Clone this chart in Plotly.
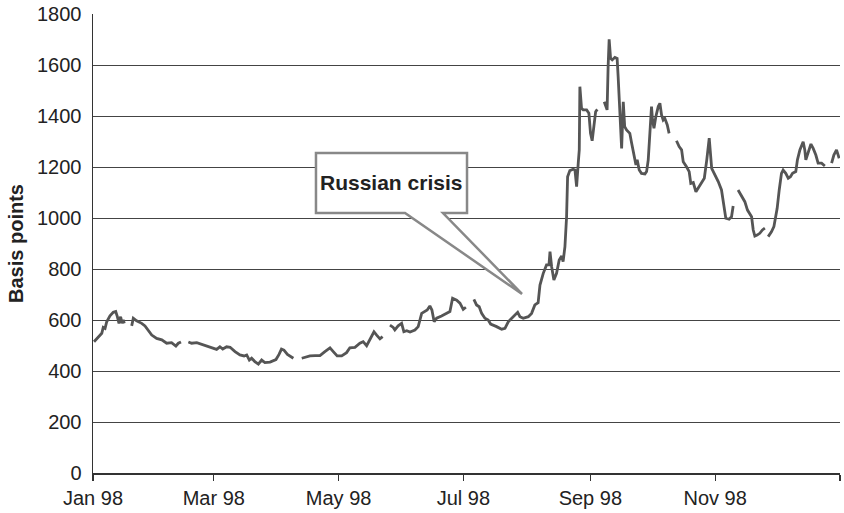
import plotly.graph_objects as go
import pandas as pd

# Days since 1 Jan 1998 and spread in basis points (None = missing data -> gap)
days = [
    0.5, 2.6, 4.3, 5.0, 5.9, 6.7, 8.3, 9.9, 11.1, 11.9, 12.7, 13.5, 14.2, 14.8, 15.3,
    17.0,
    18.9, 19.7, 21.3, 23.8, 25.4, 27.0, 28.7, 31.1, 33.6, 36.0, 38.4, 40.5, 41.7, 43.0,
    45.0,
    46.6, 48.2, 50.7, 53.9, 57.2, 60.4, 62.0, 63.4, 65.3, 67.0, 69.4, 71.8, 73.8, 75.1,
    76.4, 77.5, 79.1, 80.8, 82.4, 84.0, 86.5, 89.4, 90.9, 92.1, 93.3, 95.0, 97.9,
    100.0,
    102.0, 103.6, 106.0, 108.5, 110.9, 113.3, 115.8, 117.4, 119.3, 121.5, 123.9, 125.5,
    128.0, 130.4, 132.0, 133.7, 135.7, 137.3, 138.6, 140.2, 141.5,
    143.0,
    145.1, 146.7, 147.5, 149.1, 150.8, 151.9, 153.3, 154.9, 157.3, 158.9, 160.6, 162.2,
    163.3, 164.6, 165.6, 166.7, 167.9, 170.3, 172.8, 174.4, 175.7, 177.7, 179.3, 180.9, 182.2,
    184.0,
    186.1, 187.4, 188.7, 189.9, 191.5, 193.1, 194.3, 195.6, 197.2, 199.7, 201.3, 202.9,
    205.3, 207.5, 208.6, 210.2, 212.7, 214.3, 215.9, 217.5, 218.4, 220.0, 221.6, 222.8,
    223.3, 224.1, 225.2, 226.5, 227.8, 229.0, 229.7, 230.6, 231.4, 231.9, 233.0, 234.6,
    235.5, 236.3, 237.1, 237.6, 237.9, 238.7, 239.5, 241.2, 242.3, 243.1, 243.9, 244.7,
    245.6, 246.4,
    248.0,
    249.8, 250.6, 251.2, 251.7, 252.2, 252.9, 253.7, 255.0, 256.1, 256.6, 257.5, 258.3,
    259.1, 259.8, 260.7, 262.3, 263.2, 264.3, 265.3, 265.9, 266.9, 268.0, 269.7, 270.5,
    271.3, 272.1, 272.9, 273.4, 274.1, 275.0, 276.2, 277.0, 277.8, 278.6, 279.4, 280.6, 281.5,
    283.0,
    285.1, 286.4, 287.6, 288.4, 290.0, 291.3, 292.1, 293.3, 294.6, 295.7, 297.4, 298.7,
    299.9, 301.1, 302.3, 303.9, 305.5, 307.1, 308.3, 309.2, 310.8, 312.0, 312.8,
    314.0,
    315.2, 316.9, 318.5, 319.8, 320.9, 321.8, 322.6, 323.4, 324.5, 325.8, 327.1, 328.3,
    329.0,
    329.9, 331.5, 332.7, 333.7, 334.3, 335.3, 336.4, 337.2, 338.5, 339.7, 340.8, 341.8,
    343.4, 344.2, 345.4, 347.0, 347.8, 348.3, 349.4, 350.8, 351.9, 353.2, 354.3, 356.0, 357.6,
    359.0,
    360.9, 362.0, 363.3, 364.6,
]

basis_points = [
    515, 535, 548, 571, 567, 593, 616, 630, 633, 613, 587, 613, 587, 600, 587,
    None,
    577, 607, 597, 587, 577, 561, 541, 528, 522, 509, 511, 498, 509, 514,
    None,
    514, 509, 511, 502, 491, 485, 495, 486, 495, 493, 476, 463, 459, 463,
    443, 450, 437, 427, 443, 433, 435, 445, 465, 486, 482, 465, 450,
    None,
    450, 454, 459, 460, 460, 476, 491, 476, 459, 459, 472, 491,
    493, 509, 515, 499, 528, 554, 541, 526, 535,
    None,
    580, 571, 561, 577, 587, 554, 558, 553, 561, 574, 626, 633,
    639, 655, 639, 593, 607, 616, 626, 633, 685, 678, 666, 642, 650,
    None,
    681, 659, 652, 626, 607, 600, 584, 580, 574, 564, 567, 593,
    613, 630, 613, 607, 613, 626, 659, 668, 737, 783, 816, 816,
    868, 809, 757, 783, 835, 851, 829, 888, 1005, 1162, 1186, 1191,
    1188, 1123, 1215, 1267, 1515, 1430, 1424, 1424, 1411, 1332, 1303, 1358,
    1417, 1426,
    None,
    1456, 1437, 1424, 1594, 1701, 1626, 1620, 1630, 1626, 1554, 1411, 1273,
    1456, 1358, 1345, 1332, 1293, 1241, 1208, 1228, 1188, 1175, 1173, 1182,
    1228, 1332, 1437, 1384, 1352, 1397, 1437, 1450, 1404, 1384, 1391, 1365, 1332,
    None,
    1303, 1280, 1267, 1221, 1201, 1182, 1136, 1139, 1103, 1116, 1136, 1156,
    1228, 1313, 1195, 1169, 1143, 1110, 1045, 999, 995, 1005, 1047,
    None,
    1110, 1086, 1064, 1031, 1018, 1005, 953, 929, 933, 940, 953, 960,
    None,
    927, 946, 966, 1005, 1038, 1110, 1175, 1188, 1175, 1156, 1162, 1175,
    1182, 1228, 1267, 1299, 1267, 1228, 1260, 1290, 1273, 1247, 1215, 1215, 1204,
    None,
    1215, 1247, 1267, 1234,
]

tick_dates = ["1998-01-01", "1998-03-01", "1998-05-01", "1998-07-01",
              "1998-09-01", "1998-11-01", "1999-01-01"]
tick_labels = ["Jan 98", "Mar 98", "May 98", "Jul 98", "Sep 98", "Nov 98", ""]

y_ticks = list(range(0, 1801, 200))

dates = pd.Timestamp("1998-01-01") + pd.to_timedelta(days, unit="D")

fig = go.Figure()
fig.add_trace(go.Scatter(
    x=dates, y=basis_points, mode="lines",
    line=dict(color="#555555", width=2.8),
    connectgaps=False, hoverinfo="skip", showlegend=False,
))

FONT = "Liberation Sans, Arial, sans-serif"

# callout (box + wedge) in paper coordinates
callout = ("M 0.2985,0.6972 L 0.5007,0.6972 L 0.5007,0.5664 L 0.4685,0.5664 "
           "L 0.5743,0.390 L 0.4177,0.5664 L 0.2985,0.5664 Z")

fig.update_layout(
    width=844, height=513,
    margin=dict(l=93, r=4, t=14, b=40),
    paper_bgcolor="white", plot_bgcolor="white",
    font=dict(family=FONT, color="#222222", size=20),
    xaxis=dict(
        range=["1998-01-01", "1999-01-01"], automargin=False,
        tickmode="array", tickvals=tick_dates, ticktext=tick_labels,
        showgrid=False, showline=True, linecolor="#333333", linewidth=1.5,
        ticks="outside", ticklen=6, tickcolor="#333333", tickwidth=1.2,
        tickfont=dict(size=20, color="#222222"), zeroline=False,
    ),
    yaxis=dict(
        range=[0, 1800], tickmode="array", tickvals=y_ticks, automargin=False,
        showgrid=True, gridcolor="#444444", gridwidth=1,
        showline=True, linecolor="#333333", linewidth=1.5,
        ticks="outside", ticklen=6, tickcolor="rgba(0,0,0,0)",
        tickfont=dict(size=20, color="#222222"), zeroline=False,
        title=dict(text="<b>Basis points</b>", font=dict(size=20, color="#222222"),
                   standoff=8),
    ),
    shapes=[dict(type="path", path=callout, xref="paper", yref="paper",
                 fillcolor="white", line=dict(color="#888888", width=2.5),
                 layer="above")],
    annotations=[dict(text="<b>Russian crisis</b>", xref="paper", yref="paper",
                      x=0.3995, y=0.632, showarrow=False,
                      font=dict(size=21, color="#222222", family=FONT))],
)

fig.write_html(
    "out.html",
    config={"displayModeBar": False, "staticPlot": True},
    post_script="document.documentElement.style.margin='0';document.body.style.margin='0';",
)
